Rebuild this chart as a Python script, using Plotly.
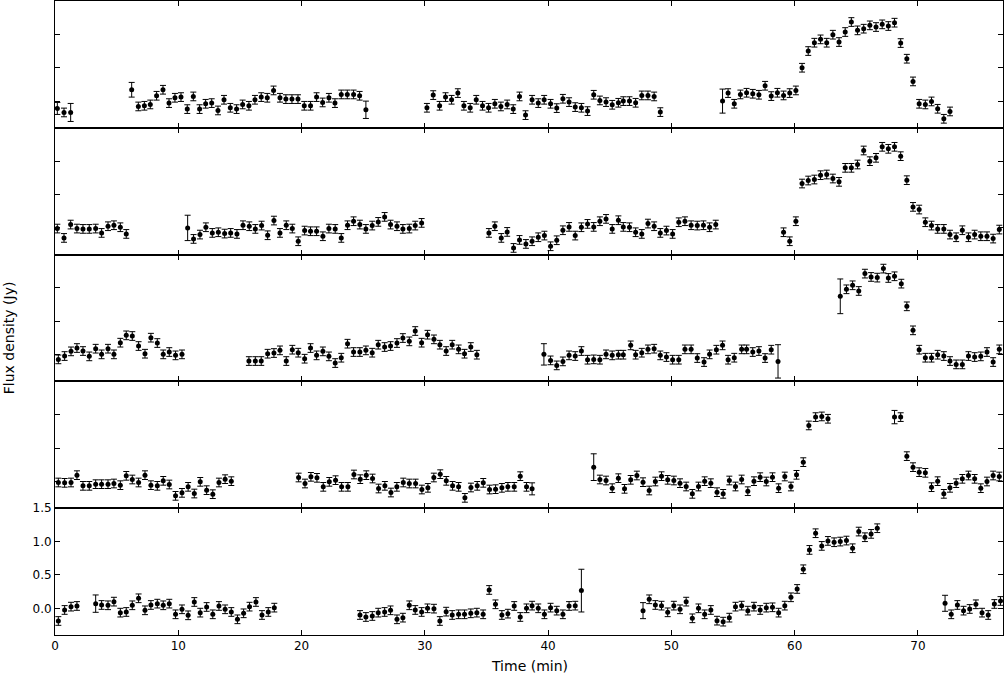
import plotly.graph_objects as go
from plotly.subplots import make_subplots

# ---------------- data (time in min, flux density in Jy) ----------------
t1 = [0.19,0.73,1.27, 6.22,6.76,7.25,7.73,8.24,8.76,9.25,9.73,10.22,10.73,11.22,11.73,12.22,12.71,13.22,13.71,14.22,14.73,15.22,15.73,16.22,16.73,17.22,17.73,18.25,18.73,19.22,19.71,20.22,20.73,21.22,21.71,22.22,22.71,23.22,23.71,24.22,24.71,25.22,
      30.17,30.68,31.2,31.68,32.17,32.68,33.17,33.68,34.17,34.68,35.17,35.68,36.17,36.68,37.17,37.68,38.17,38.7,39.2,39.68,40.2,40.7,41.2,41.7,42.2,42.7,43.2,43.7,44.2,44.7,45.2,45.7,46.1,46.6,47.1,47.6,48.1,48.6,49.1,
      54.15,54.6,55.1,55.6,56.1,56.6,57.1,57.6,58.1,58.6,59.1,59.6,60.1,60.6,61.1,61.6,62.1,62.6,63.1,63.6,64.1,64.6,65.1,65.6,66.1,66.6,67.1,67.6,68.1,68.6,69.1,69.6,70.1,70.6,71.1,71.6,72.1,72.6]
f1 = [-0.11,-0.17,-0.17, 0.17,-0.08,-0.07,-0.05,0.08,0.17,-0.03,0.05,0.06,-0.12,0.07,-0.12,-0.04,-0.03,-0.14,0.02,-0.10,-0.12,-0.05,-0.07,0.02,0.06,0.05,0.16,0.05,0.03,0.03,0.03,-0.07,-0.07,0.06,-0.02,0.05,-0.03,0.10,0.10,0.10,0.08,-0.13,
      -0.10,0.09,-0.07,0.06,0.02,0.12,-0.07,-0.10,0.02,-0.07,-0.10,-0.04,-0.08,-0.05,-0.12,0.07,-0.21,0.02,-0.03,0.02,-0.04,-0.105,0.035,-0.015,-0.09,-0.10,-0.15,0.095,0.01,-0.015,-0.055,-0.025,0.0,0.0,-0.025,0.085,0.085,0.07,-0.165,
      0.0,0.12,-0.04,0.1,0.125,0.11,0.095,0.23,0.075,0.125,0.085,0.12,0.16,0.5,0.75,0.875,0.925,0.875,0.995,0.885,1.035,1.185,1.06,1.085,1.135,1.11,1.15,1.125,1.175,0.87,0.635,0.295,-0.04,-0.05,-0.005,-0.115,-0.265,-0.155]
big1 = {0.19: 0.09, 1.27: 0.135, 6.22: 0.11, 25.22: 0.13, 54.15: 0.18}

t2 = [0.19,0.73,1.27,1.78,2.27,2.78,3.3,3.78,4.3,4.78,5.3,5.78,
      10.76,11.24,11.76,12.24,12.76,13.25,13.76,14.25,14.76,15.25,15.76,16.25,16.76,17.25,17.76,18.25,18.76,19.25,19.73,20.25,20.73,21.22,21.73,22.22,22.73,23.22,23.73,24.22,24.73,25.22,25.73,26.22,26.74,27.22,27.74,28.22,28.74,29.22,29.74,
      35.2,35.68,36.2,36.68,37.2,37.68,38.2,38.7,39.2,39.7,40.2,40.7,41.2,41.7,42.2,42.7,43.2,43.7,44.2,44.7,45.2,45.7,46.1,46.6,47.1,47.6,48.1,48.6,49.1,49.6,50.1,50.6,51.1,51.6,52.1,52.6,53.1,53.6,
      59.1,59.6,60.1,60.6,61.1,61.6,62.1,62.6,63.1,63.6,64.1,64.6,65.1,65.6,66.1,66.6,67.1,67.6,68.1,68.6,69.1,69.6,70.1,70.6,71.1,71.6,72.1,72.6,73.1,73.6,74.1,74.6,75.1,75.6,76.1,76.6]
f2 = [-0.01,-0.15,0.05,-0.01,-0.015,-0.015,-0.01,-0.075,0.025,0.04,0.01,-0.09,
      0.0,-0.165,-0.1,0.01,-0.075,-0.065,-0.085,-0.075,-0.09,0.04,0.025,-0.015,0.035,-0.11,0.11,-0.075,0.04,-0.01,-0.2,-0.04,-0.05,-0.05,-0.125,-0.01,-0.015,-0.15,0.04,0.1,0.05,-0.015,0.035,0.09,0.165,0.05,0.025,-0.015,-0.01,0.035,0.075,
      -0.075,0.025,-0.15,-0.06,-0.3,-0.18,-0.24,-0.2,-0.14,-0.115,-0.275,-0.185,-0.035,0.015,-0.115,0.01,0.06,0.015,0.1,0.135,-0.015,0.115,0.015,0.01,-0.065,-0.09,0.065,0.025,-0.075,-0.04,-0.09,0.085,0.1,0.04,0.035,0.04,0.01,0.05,
      -0.065,-0.2,0.1,0.665,0.71,0.725,0.79,0.8,0.74,0.69,0.9,0.9,0.95,1.16,1.0,1.05,1.215,1.185,1.215,1.075,0.715,0.315,0.275,0.085,0.035,-0.015,-0.015,-0.1,-0.14,-0.035,-0.14,-0.1,-0.125,-0.125,-0.16,-0.025]
big2 = {10.76: 0.19}

t3 = [0.27,0.78,1.3,1.78,2.27,2.78,3.3,3.78,4.3,4.78,5.3,5.78,6.27,6.78,7.3,7.78,8.3,8.78,9.27,9.78,10.3,
      15.73,16.25,16.73,17.25,17.76,18.25,18.76,19.25,19.73,20.25,20.73,21.22,21.73,22.22,22.73,23.22,23.73,24.22,24.73,25.22,25.73,26.22,26.74,27.22,27.74,28.22,28.74,29.22,29.74,30.22,30.74,31.22,31.73,32.22,32.74,33.22,33.73,34.22,
      39.66,40.2,40.7,41.2,41.7,42.2,42.7,43.2,43.7,44.2,44.7,45.2,45.7,46.1,46.7,47.1,47.6,48.1,48.6,49.1,49.6,50.1,50.6,51.1,51.6,52.1,52.65,53.1,53.65,54.15,54.6,55.1,55.7,56.1,56.6,57.1,57.6,58.1,58.65,
      63.7,64.2,64.7,65.2,65.7,66.2,66.7,67.2,67.6,68.1,68.65,69.1,69.6,70.1,70.6,71.1,71.6,72.1,72.6,73.1,73.6,74.1,74.6,75.1,75.6,76.1,76.6]
f3 = [-0.07,-0.02,0.05,0.1,0.055,-0.025,0.09,0.005,0.09,0.005,0.18,0.29,0.28,0.13,0.015,0.255,0.175,0.005,0.04,-0.01,0.005,
      -0.095,-0.095,-0.095,0.015,0.025,0.065,-0.095,0.075,0.03,-0.06,0.1,-0.01,0.05,-0.025,-0.125,-0.045,0.165,0.04,0.04,0.065,0.03,0.15,0.115,0.13,0.175,0.25,0.2,0.355,0.18,0.3,0.23,0.15,0.055,0.15,0.08,0.015,0.115,0.0,
      0.005,-0.085,-0.16,-0.1,-0.01,-0.02,0.055,-0.075,-0.07,-0.075,0.005,-0.01,0.0,0.0,0.14,0.0,0.03,0.08,0.09,-0.01,-0.035,-0.075,-0.075,0.08,0.08,-0.05,-0.11,0.005,0.075,0.14,-0.075,-0.045,0.08,0.08,0.04,0.055,-0.05,0.075,-0.1,
      0.875,0.98,1.04,0.955,1.215,1.165,1.155,1.29,1.15,1.175,1.065,0.725,0.365,0.075,-0.045,-0.045,0.0,-0.02,-0.095,-0.145,-0.145,-0.02,-0.035,-0.025,0.04,-0.11,0.08]
big3 = {39.66: 0.16, 58.65: 0.25, 63.7: 0.26}

t4 = [0.27,0.78,1.3,1.78,2.27,2.78,3.3,3.78,4.3,4.78,5.3,5.78,6.27,6.78,7.3,7.78,8.3,8.78,9.27,9.78,10.3,10.8,11.3,11.78,12.3,12.8,13.3,13.8,14.3,
      19.76,20.28,20.76,21.25,21.76,22.25,22.76,23.25,23.76,24.25,24.76,25.25,25.76,26.25,26.76,27.25,27.73,28.25,28.74,29.25,29.76,30.25,30.73,31.25,31.74,32.25,32.74,33.25,33.74,34.25,34.74,35.25,35.74,36.25,36.74,37.25,37.74,38.25,38.7,
      43.7,44.2,44.7,45.2,45.7,46.2,46.7,47.2,47.7,48.2,48.7,49.2,49.7,50.2,50.7,51.2,51.7,52.2,52.7,53.2,53.7,54.2,54.7,55.2,55.7,56.2,56.7,57.2,57.7,58.2,58.7,59.2,59.7,60.15,60.7,61.15,61.7,62.2,62.7,
      68.1,68.6,69.1,69.6,70.1,70.6,71.1,71.6,72.1,72.6,73.1,73.6,74.1,74.6,75.1,75.6,76.1,76.6]
f4 = [-0.015,-0.02,-0.015,0.095,-0.065,-0.065,-0.04,-0.04,-0.04,-0.03,-0.055,0.085,0.03,-0.015,0.095,-0.055,-0.065,0.01,-0.045,-0.215,-0.17,-0.08,-0.18,-0.005,-0.13,-0.19,-0.015,0.035,0.005,
      0.06,-0.03,0.07,0.055,-0.08,-0.005,0.02,-0.08,-0.08,0.105,0.035,0.095,0.045,-0.105,-0.065,-0.165,-0.08,-0.015,-0.03,-0.03,-0.12,-0.095,0.06,0.11,0.01,-0.065,-0.08,-0.245,-0.09,-0.065,-0.02,-0.12,-0.115,-0.095,-0.08,-0.08,0.08,-0.08,-0.11,
      0.215,0.03,0.015,-0.1,0.05,-0.11,0.025,0.09,-0.01,-0.135,0.0,0.08,0.025,0.015,-0.025,-0.075,-0.185,-0.075,0.005,-0.025,-0.16,-0.185,0.015,-0.075,0.03,-0.145,0.005,0.065,0.0,0.065,-0.1,0.075,-0.075,0.1,0.29,0.84,0.965,0.975,0.94,
      0.965,0.965,0.38,0.215,0.14,0.13,-0.085,0.005,-0.185,-0.095,-0.025,0.04,0.09,0.04,-0.1,0.0,0.09,0.075]
big4 = {38.7: 0.09, 43.7: 0.2, 68.1: 0.1}

t5 = [0.27,0.78,1.3,1.78,
      3.3,3.78,4.3,4.78,5.3,5.78,6.27,6.78,7.3,7.78,8.3,8.78,9.27,9.78,10.3,10.8,11.3,11.78,12.3,12.8,13.3,13.8,14.3,14.8,15.3,15.78,16.3,16.79,17.3,17.79,
      24.74,25.22,25.74,26.22,26.74,27.22,27.74,28.22,28.74,29.22,29.74,30.22,30.74,31.22,31.73,32.22,32.74,33.22,33.73,34.22,34.73,35.22,35.73,36.25,36.74,37.25,37.74,38.25,38.7,39.2,39.7,40.2,40.7,41.2,41.7,42.2,42.7,
      47.7,48.2,48.7,49.2,49.7,50.2,50.7,51.2,51.7,52.2,52.7,53.2,53.7,54.2,54.7,55.2,55.7,56.2,56.7,57.2,57.7,58.2,58.7,59.2,59.7,60.2,60.7,61.2,61.7,62.2,62.7,63.2,63.7,64.2,64.7,65.2,65.7,66.2,66.7,
      72.2,72.7,73.2,73.7,74.2,74.7,75.2,75.7,76.2,76.7]
f5 = [-0.19,-0.025,0.025,0.035,
      0.07,0.05,0.045,0.1,-0.065,-0.055,0.045,0.15,-0.03,0.05,0.07,0.045,0.07,-0.09,-0.015,-0.105,0.095,-0.065,0.02,-0.09,0.035,-0.015,-0.055,-0.165,-0.075,0.025,0.095,-0.1,-0.055,0.01,
      -0.1,-0.13,-0.115,-0.065,-0.055,-0.03,-0.165,-0.14,0.045,-0.025,-0.055,0.0,-0.005,-0.19,-0.05,-0.1,-0.09,-0.09,-0.075,-0.065,-0.09,0.275,0.06,-0.1,-0.08,0.035,-0.13,0.0,0.04,0.0,-0.09,0.01,-0.035,-0.09,0.035,0.04,0.265,
      -0.035,0.135,0.05,0.04,-0.06,0.04,-0.015,0.1,-0.15,0.0,-0.09,-0.025,-0.185,-0.2,-0.14,0.025,0.04,-0.035,0.025,-0.025,0.01,0.015,-0.065,0.04,0.165,0.29,0.585,0.875,1.125,0.935,1.01,0.99,1.0,1.015,0.9,1.15,1.065,1.115,1.2,
      0.075,-0.09,0.05,-0.035,-0.01,0.06,-0.065,-0.1,0.065,0.11]
big5 = {3.3: 0.13, 42.7: 0.32, 47.7: 0.12, 72.2: 0.12}

ERR = 0.065
x_ticks = [0, 10, 20, 30, 40, 50, 60, 70]
y_ticks = [0.0, 0.5, 1.0, 1.5]
y_tick_text = ["0.0", "0.5", "1.0", "1.5"]

panels = [(t1, f1, big1), (t2, f2, big2), (t3, f3, big3), (t4, f4, big4), (t5, f5, big5)]

fig = make_subplots(rows=5, cols=1, shared_xaxes=True, vertical_spacing=0)

for i, (tt, ff, big) in enumerate(panels):
    assert len(tt) == len(ff), (i, len(tt), len(ff))
    errs = [big.get(t, ERR) for t in tt]
    fig.add_trace(go.Scatter(
        x=tt, y=ff, mode="markers",
        marker=dict(color="black", size=5),
        error_y=dict(type="data", array=errs, visible=True, color="black",
                     thickness=1, width=3),
        showlegend=False, hoverinfo="x+y"),
        row=i + 1, col=1)
    fig.update_yaxes(range=[-0.4, 1.5], tickvals=y_ticks, ticktext=y_tick_text,
                     showticklabels=(i == 4), ticks="inside", ticklen=5,
                     tickcolor="black", showline=True, linecolor="black",
                     linewidth=1, mirror="ticks", showgrid=False, zeroline=False,
                     automargin=False, row=i + 1, col=1)
    fig.update_xaxes(range=[0, 76.9], tickvals=x_ticks, showticklabels=(i == 4),
                     ticks="inside", ticklen=5, tickcolor="black", showline=True,
                     linecolor="black", linewidth=1, mirror="ticks",
                     showgrid=False, zeroline=False, automargin=False,
                     row=i + 1, col=1)

fig.add_annotation(text="Time (min)", xref="paper", yref="paper", x=0.5, y=0,
                   yshift=-31, showarrow=False, yanchor="middle",
                   font=dict(size=14, color="black"))
fig.add_annotation(text="Flux density (Jy)", xref="paper", yref="paper", x=0,
                   xshift=-46, y=0.468, textangle=-90, showarrow=False,
                   xanchor="center", yanchor="middle",
                   font=dict(size=14, color="black"))

fig.update_layout(width=1004, height=676, autosize=False, plot_bgcolor="white",
                  paper_bgcolor="white",
                  margin=dict(l=55, r=1, t=1, b=41),
                  font=dict(family="DejaVu Sans", size=12, color="black"))

post = ("document.body.style.margin='0';document.body.style.padding='0';"
        "document.body.style.overflow='hidden';"
        "document.documentElement.style.overflow='hidden';")
fig.write_html("out.html", config={"responsive": False, "displayModeBar": False},
               post_script=post)
